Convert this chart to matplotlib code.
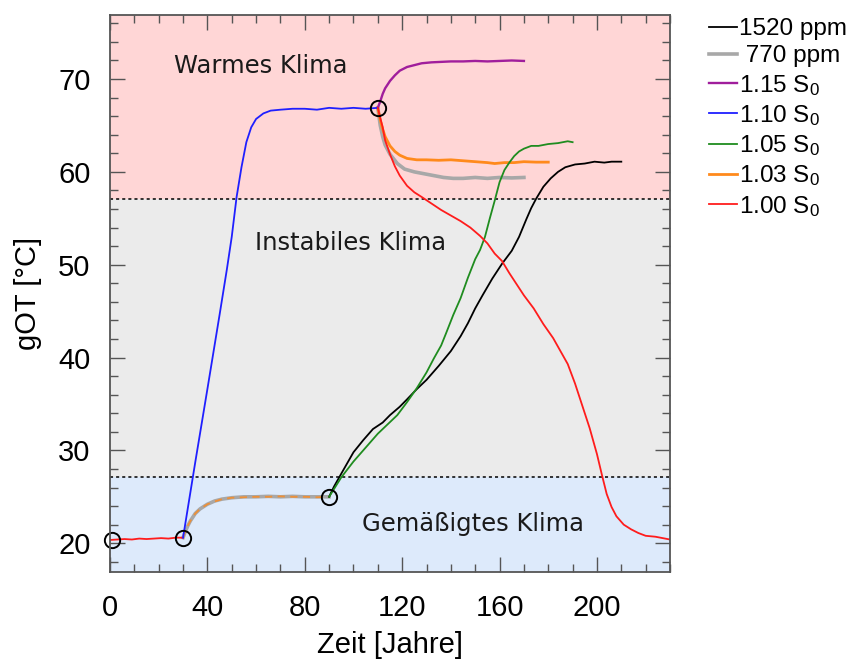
import numpy as np
import matplotlib
matplotlib.use("Agg")
import matplotlib.pyplot as plt
from matplotlib.ticker import MultipleLocator

plt.rcParams['font.family'] = ['Liberation Sans', 'DejaVu Sans']
plt.rcParams['mathtext.fontset'] = 'custom'
plt.rcParams['mathtext.rm'] = 'Liberation Sans'
plt.rcParams['mathtext.it'] = 'Liberation Sans:italic'

# ---- data (year, gOT) ----
red_start_t = [0, 3, 6, 9, 12, 15, 18, 21, 24, 27, 30]
red_start_y = [20.35, 20.4, 20.45, 20.4, 20.5, 20.45, 20.5, 20.55, 20.5, 20.6, 20.6]

blue_t = [30, 35, 40, 45, 48, 50, 52, 54, 56, 58, 60, 63, 66, 70, 75, 80, 85, 90, 95, 100, 105, 110]
blue_y = [20.6, 28.7, 36.6, 44.6, 49.5, 53.0, 57.3, 60.5, 63.2, 64.8, 65.7, 66.3, 66.6, 66.7,
          66.8, 66.8, 66.7, 66.9, 66.8, 66.9, 66.8, 66.9]

low_t = [30, 31, 32, 33, 35, 37, 40, 43, 46, 50, 55, 60, 65, 70, 75, 80, 85, 90]
gray_low_y = [20.6, 21.3, 21.9, 22.4, 23.2, 23.7, 24.2, 24.55, 24.75, 24.9, 25.0, 25.0, 25.05,
              25.0, 25.05, 25.0, 25.0, 25.0]
orange_low_y = [20.6, 21.3, 21.9, 22.4, 23.2, 23.7, 24.2, 24.5, 24.75, 24.9, 24.95, 25.0, 25.0,
                25.05, 25.0, 25.0, 24.95, 25.0]

black_t = [90, 92, 95, 100, 104, 108, 112, 115, 119, 122, 126, 130, 135, 140, 144, 147, 150, 153,
           157, 161, 165, 168, 171, 173, 175, 178, 181, 184, 187, 191, 195, 199, 203, 206, 210]
black_y = [25.0, 26.1, 27.5, 29.8, 31.1, 32.3, 33.0, 33.8, 34.7, 35.5, 36.6, 37.6, 39.1, 40.7,
           42.3, 43.7, 45.3, 46.7, 48.5, 50.1, 51.5, 53.0, 54.9, 56.1, 57.1, 58.4, 59.3, 60.0,
           60.5, 60.8, 60.9, 61.1, 61.0, 61.1, 61.1]

green_t = [90, 95, 100, 105, 110, 114, 118, 122, 126, 130, 133, 136, 138, 141, 144, 147, 150, 152,
           154, 156, 158, 160, 162, 164, 166, 168, 170, 173, 176, 180, 184, 188, 190]
green_y = [25.0, 27.1, 28.8, 30.3, 31.8, 32.8, 33.8, 35.2, 36.7, 38.4, 39.9, 41.3, 42.6, 44.6,
           46.4, 48.6, 50.6, 51.6, 53.0, 55.0, 56.9, 58.9, 60.2, 61.0, 61.7, 62.2, 62.5, 62.8,
           62.8, 63.0, 63.1, 63.3, 63.2]

purple_t = [110, 111, 112, 113, 115, 117, 119, 122, 125, 128, 132, 136, 140, 145, 150, 155, 160, 165, 170]
purple_y = [66.9, 67.6, 68.4, 69.0, 69.8, 70.4, 70.9, 71.3, 71.5, 71.7, 71.8, 71.85, 71.9, 71.9,
            71.95, 71.9, 71.95, 72.0, 71.95]

orange_t = [110, 111, 112, 113, 115, 117, 119, 122, 126, 130, 135, 140, 145, 150, 155, 158, 162,
            166, 170, 175, 180]
orange_y = [66.9, 65.6, 64.6, 63.8, 62.8, 62.2, 61.8, 61.45, 61.3, 61.3, 61.25, 61.3, 61.2, 61.1,
            61.0, 60.9, 61.0, 61.0, 61.1, 61.05, 61.05]

gray_t = [110, 111, 112, 113, 115, 118, 121, 125, 129, 133, 137, 141, 145, 150, 155, 160, 165, 170]
gray_y = [66.9, 65.0, 63.8, 62.9, 61.9, 60.9, 60.3, 60.0, 59.8, 59.6, 59.4, 59.3, 59.3, 59.4,
          59.3, 59.4, 59.35, 59.4]

red_t = [110, 111, 112, 113, 115, 117, 119, 122, 125, 128, 132, 136, 140, 144, 148, 152, 155, 158,
         161, 164, 167, 170, 174, 178, 182, 185, 188, 191, 194, 197, 200, 202, 204, 206, 208, 211,
         214, 217, 220, 224, 228, 230]
red_y = [66.9, 65.8, 64.8, 63.4, 61.9, 60.6, 59.6, 58.5, 57.8, 57.3, 56.6, 55.9, 55.3, 54.7, 54.0,
         53.1, 52.3, 51.2, 50.4, 49.1, 47.9, 46.7, 45.3, 43.6, 42.1, 40.7, 39.3, 37.2, 34.8, 32.4,
         29.6, 27.4, 25.3, 23.9, 22.9, 22.0, 21.5, 21.1, 20.8, 20.7, 20.5, 20.4]

branch_t = [1, 30, 90, 110]
branch_y = [20.35, 20.6, 25.0, 66.9]

warm_limit = 57.1
temperate_limit = 27.1

region_labels = ['Warmes Klima', 'Instabiles Klima', 'Gemäßigtes Klima']
region_label_pos = [(62, 71.4), (99, 52.3), (149, 22.1)]

# colours
c_black = 'black'
c_gray = '#a8a8a8'
c_purple = '#a01e9c'
c_blue = '#1f1fff'
c_green = '#1f8c1f'
c_orange = '#ff8a1c'
c_red = '#ff1c1c'

fig = plt.figure(figsize=(8.47, 6.63), dpi=100)
ax = fig.add_axes([110 / 847, 1 - 572 / 663, 560 / 847, 557 / 663])

xmin, xmax = 0, 230
ymin, ymax = 16.9, 76.9

# background bands
ax.axhspan(warm_limit, ymax, color='#ffd6d6', zorder=0, lw=0)
ax.axhspan(temperate_limit, warm_limit, color='#ebebeb', zorder=0, lw=0)
ax.axhspan(ymin, temperate_limit, color='#ddeafb', zorder=0, lw=0)
ax.axhline(warm_limit, color='black', ls=(0, (2, 2)), lw=1.1, zorder=1)
ax.axhline(temperate_limit, color='black', ls=(0, (2, 2)), lw=1.1, zorder=1)

lw = 1.3
# low segments shared by the runs
ax.plot(low_t, gray_low_y, color=c_gray, lw=2.6, zorder=3)
ax.plot(low_t, orange_low_y, color=c_orange, lw=1.3, ls=(0, (4, 3)), alpha=0.8, zorder=3)
ax.plot(red_start_t, red_start_y, color=c_red, lw=lw, zorder=3)

# branches
ax.plot(black_t, black_y, color=c_black, lw=lw, zorder=4, label='1520 ppm')
ax.plot(gray_t, gray_y, color=c_gray, lw=2.6, zorder=3, label=' 770 ppm')
ax.plot(purple_t, purple_y, color=c_purple, lw=lw + 0.4, zorder=4, label='1.15 S$_0$')
ax.plot(blue_t, blue_y, color=c_blue, lw=lw, zorder=4, label='1.10 S$_0$')
ax.plot(green_t, green_y, color=c_green, lw=lw, zorder=4, label='1.05 S$_0$')
ax.plot(orange_t, orange_y, color=c_orange, lw=2.0, zorder=3, label='1.03 S$_0$')
ax.plot(red_t, red_y, color=c_red, lw=lw, zorder=4, label='1.00 S$_0$')

# branching points
ax.plot(branch_t, branch_y, 'o', ms=11, mfc='none', mec='black', mew=1.4, zorder=6, clip_on=False)

for txt, (tx, ty) in zip(region_labels, region_label_pos):
    ax.text(tx, ty, txt, ha='center', va='center', fontsize=17.5, family='DejaVu Sans',
            color='#1a1a1a', zorder=5)

ax.set_xlim(xmin, xmax)
ax.set_ylim(ymin, ymax)
ax.xaxis.set_major_locator(MultipleLocator(40))
ax.xaxis.set_minor_locator(MultipleLocator(10))
ax.yaxis.set_major_locator(MultipleLocator(10))
ax.yaxis.set_minor_locator(MultipleLocator(2))
ax.tick_params(which='both', direction='in', top=True, right=True, color='#555555', width=1.0)
ax.tick_params(which='major', length=11, labelsize=21, pad=14)
ax.tick_params(which='minor', length=5.5)
ax.tick_params(axis='x', which='major', pad=16)
for s in ax.spines.values():
    s.set_color('#555555')
    s.set_linewidth(1.3)
    s.set_zorder(7)

ax.set_xlabel('Zeit [Jahre]', fontsize=21, labelpad=6)
ax.set_ylabel('gOT [°C]', fontsize=21, labelpad=12)

leg = fig.legend(loc='upper left', bbox_to_anchor=(709 / 847, 1 - 18 / 663), frameon=False,
                 fontsize=17.5, handlelength=1.15, handletextpad=0.08, labelspacing=0.22,
                 borderpad=0, borderaxespad=0)

fig.savefig('out.png', dpi=100)
